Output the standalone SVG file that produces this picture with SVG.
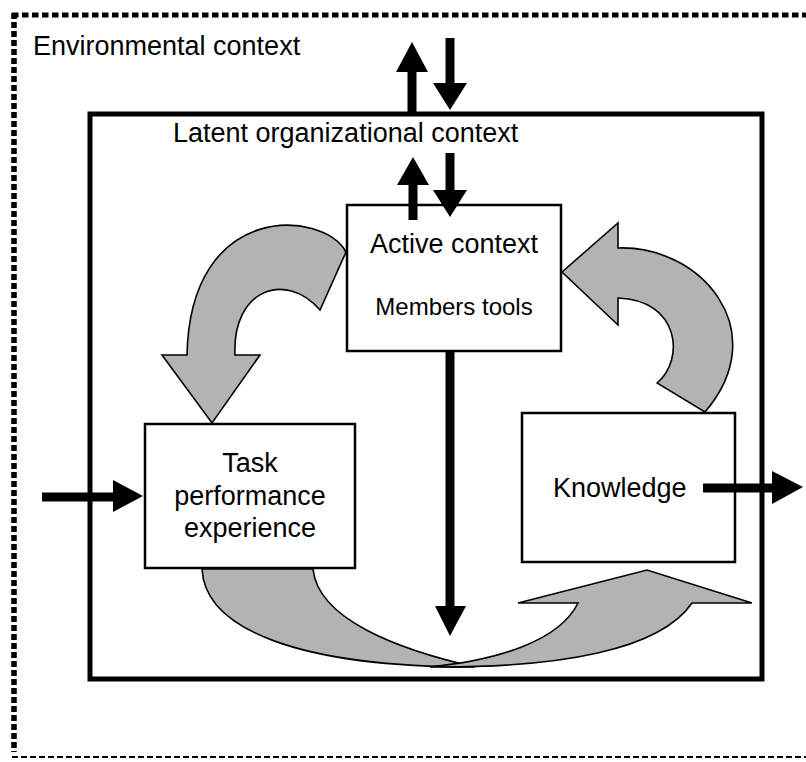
<svg xmlns="http://www.w3.org/2000/svg" width="806" height="762" viewBox="0 0 806 762">
<style>
.t{font-family:"Liberation Sans",Arial,sans-serif;fill:#000;}
.box{fill:#fff;stroke:#000;stroke-width:2.5;}
.gray{fill:#b3b3b3;stroke:#000;stroke-width:1.6;stroke-linejoin:miter;}
.shaft{stroke:#000;stroke-width:9;fill:none;}
.head{fill:#000;stroke:none;}
</style>
<rect width="806" height="762" fill="#fff"/>
<g id="environment">
<line x1="12" y1="15" x2="806" y2="15" stroke="#000" stroke-width="5" stroke-dasharray="6.5 3.5"/>
<line x1="14" y1="13" x2="14" y2="752" stroke="#000" stroke-width="5.5" stroke-dasharray="6 3"/>
<line x1="12" y1="757" x2="806" y2="757" stroke="#000" stroke-width="2.2" stroke-dasharray="6 3"/>
<text class="t" x="33" y="55" font-size="27">Environmental context</text>
</g>
<g id="latent">
<rect x="90" y="114" width="672" height="565" fill="none" stroke="#000" stroke-width="5"/>
<text class="t" x="173" y="142" font-size="27">Latent organizational context</text>
</g>
<g id="active">
<rect class="box" x="347" y="205" width="214" height="146"/>
<text class="t" x="454" y="253" font-size="27" text-anchor="middle">Active context</text>
<text class="t" x="454" y="315" font-size="24" text-anchor="middle">Members tools</text>
</g>
<g id="task">
<rect class="box" x="145" y="424" width="210" height="144"/>
<text class="t" x="250" y="472" font-size="27" text-anchor="middle">Task</text>
<text class="t" x="250" y="505" font-size="27" text-anchor="middle">performance</text>
<text class="t" x="250" y="537" font-size="27" text-anchor="middle">experience</text>
</g>
<g id="knowledge">
<rect class="box" x="522" y="413" width="213" height="149"/>
<text class="t" x="553" y="497" font-size="27">Knowledge</text>
</g>
<g id="connectors">
<path class="gray" d="M346,252 C323,210 190,200 187,355 L162,355 L212,423 L260,355 L235,355 C232,290 285,270 320,310 Z"/>
<path class="gray" d="M562,272 L618,223 L618,248 C700,245 775,330 705,412 L657,383 C685,360 680,300 618,298 L618,325 Z"/>
<path class="gray" d="M202,569 C205,630 300,667 475,667 C400,650 318,620 313,569 Z"/>
<path class="gray" d="M430,667 C560,668 660,650 692,603 L752,603 L647,570 L518,603 L578,603 C560,640 500,660 430,667 Z"/>
<line class="shaft" x1="412" y1="71" x2="412" y2="113"/>
<polygon class="head" points="412,42 428,72 396,72"/>
<line class="shaft" x1="450" y1="38" x2="450" y2="84"/>
<polygon class="head" points="433,83 467,83 450,110"/>
<line class="shaft" x1="413" y1="184" x2="413" y2="220"/>
<polygon class="head" points="413,157 429,185 397,185"/>
<line class="shaft" x1="450" y1="153" x2="450" y2="191"/>
<polygon class="head" points="433,190 467,190 450,217"/>
<line class="shaft" x1="450" y1="352" x2="450" y2="607"/>
<polygon class="head" points="435,606 466,606 450,636"/>
<line class="shaft" x1="42" y1="497" x2="114" y2="497"/>
<polygon class="head" points="113,480 143,496 113,512"/>
<line class="shaft" x1="703" y1="488" x2="773" y2="488"/>
<polygon class="head" points="772,471 803,487 772,504"/>
</g>
</svg>
